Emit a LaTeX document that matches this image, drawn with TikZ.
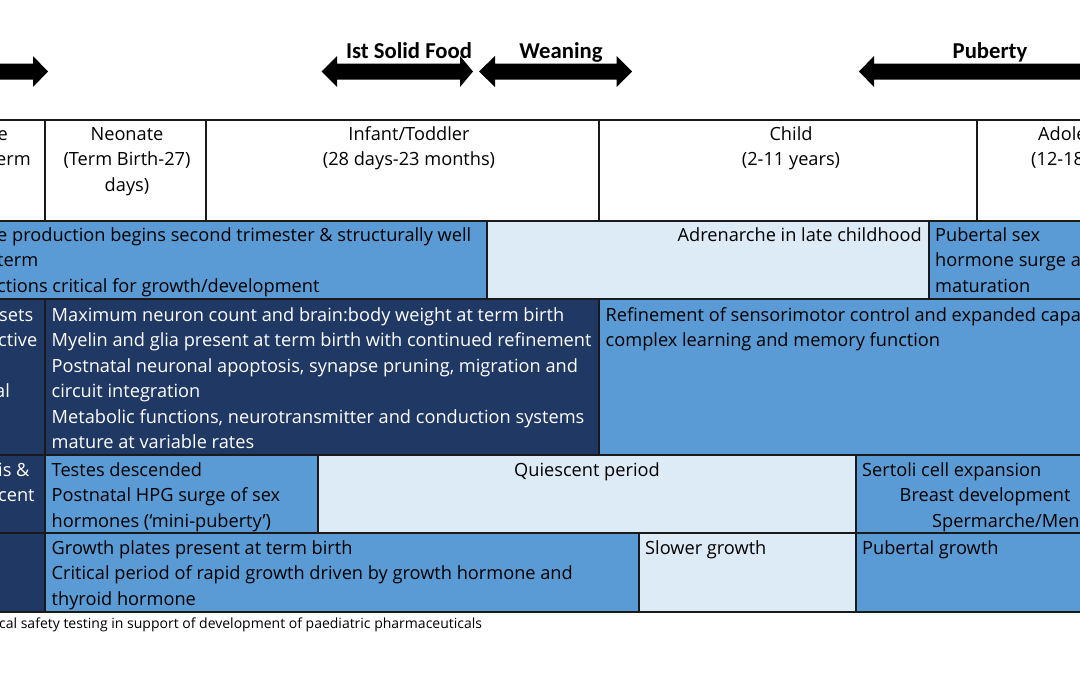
\documentclass[tikz,border=0pt]{standalone}
\usepackage{fontspec}
\setmainfont{Open Sans}
\newfontfamily\calib{Carlito}
\definecolor{midblue}{HTML}{5B9BD5}
\definecolor{navy}{HTML}{203864}
\definecolor{lightb}{HTML}{DDEBF7}
\definecolor{bordc}{HTML}{1A1A1A}
\newcommand\fl{\rule{0pt}{14pt}}
\tikzset{
  cell/.style={draw=bordc, line width=1.3pt},
  body/.style={font=\fontsize{18.2}{25.5}\selectfont, inner sep=0pt, align=left, text=black},
  tl/.style={body, anchor=north west},
  bl/.style={body, anchor=base west},
  br/.style={body, anchor=base east},
  hd/.style={body, anchor=north, align=center},
  wt/.style={text=white},
  lab/.style={font=\calib\bfseries\fontsize{22.7}{26}\selectfont, inner sep=0pt, anchor=base},
  arr/.style={fill=black, draw=none},
  captxt/.style={font=\fontsize{14}{16}\selectfont, inner sep=0pt, anchor=base west}
}
\begin{document}
\begin{tikzpicture}[x=1pt,y=-1pt]
\useasboundingbox (0,0) rectangle (1080,675);
\clip (0,0) rectangle (1080,675);
\fill[white] (0,0) rectangle (1080,675);

% arrows
\fill[arr] (-40,63.5) -- (33,63.5) -- (33,56) -- (48,71.5) -- (33,87) -- (33,79.5) -- (-40,79.5) -- cycle;
\fill[arr] (321.5,71.5) -- (337,56) -- (337,63.5) -- (460,63.5) -- (460,56) -- (473,71.5) -- (460,87) -- (460,79.5) -- (337,79.5) -- (337,87) -- cycle;
\fill[arr] (479,71.5) -- (495,56) -- (495,63.5) -- (616.5,63.5) -- (616.5,56) -- (632,71.5) -- (616.5,87) -- (616.5,79.5) -- (495,79.5) -- (495,87) -- cycle;
\fill[arr] (859,71.5) -- (874,56) -- (874,63.5) -- (1120,63.5) -- (1120,79.5) -- (874,79.5) -- (874,87) -- cycle;

\node[lab] (lsolid) at (409,58.5) {Ist Solid Food};
\node[lab] (lwean) at (561,58.5) {Weaning};
\node[lab] (lpub) at (990,58.5) {Puberty};

% header row
\path[cell, fill=white] (-20,120) rectangle (45,221);
\path[cell, fill=white] (45,120) rectangle (206,221);
\path[cell, fill=white] (206,120) rectangle (599,221);
\path[cell, fill=white] (599,120) rectangle (977,221);
\path[cell, fill=white] (977,120) rectangle (1100,221);

% row 2
\path[cell, fill=midblue] (-20,221) rectangle (487,299);
\path[cell, fill=lightb] (487,221) rectangle (929,299);
\path[cell, fill=midblue] (929,221) rectangle (1100,299);

% row 3
\path[cell, fill=navy] (-20,299) rectangle (45,455);
\path[cell, fill=navy] (45,299) rectangle (599,455);
\path[cell, fill=midblue] (599,299) rectangle (1100,455);

% row 4
\path[cell, fill=navy] (-20,455) rectangle (45,533);
\path[cell, fill=midblue] (45,455) rectangle (318,533);
\path[cell, fill=lightb] (318,455) rectangle (856,533);
\path[cell, fill=midblue] (856,455) rectangle (1100,533);

% row 5
\path[cell, fill=navy] (-20,533) rectangle (45,612);
\path[cell, fill=midblue] (45,533) rectangle (639,612);
\path[cell, fill=lightb] (639,533) rectangle (856,612);
\path[cell, fill=midblue] (856,533) rectangle (1100,612);

% header texts
\node[br] (h0a) at (8,140) {e};
\node[br] (h0b) at (31,165.5) {erm};
\node[hd] (h1) at (127,126) {\fl Neonate\\(Term Birth-27)\\days)};
\node[hd] (h2) at (409,126) {\fl Infant/Toddler\\(28 days-23 months)};
\node[hd] (h3) at (791,126) {\fl Child\\(2-11 years)};
\node[bl] (h4a) at (1038,140) {Adole};
\node[bl] (h4b) at (1031,165.5) {(12-18};

% row 2 texts
\node[tl] (r2a) at (-3,227) {\fl e production begins second trimester \& structurally well\\term\\ctions critical for growth/development};
\node[br] (r2b) at (922,241) {Adrenarche in late childhood};
\node[tl] (r2c) at (935,227) {\fl Pubertal sex\\hormone surge a\\maturation};

% row 3 texts
\node[bl, wt] (r3a1) at (-1,321) {sets};
\node[bl, wt] (r3a2) at (-2,346.5) {ctive};
\node[bl, wt] (r3a3) at (-5,397.5) {al};
\node[tl, wt] (r3b) at (51.5,307) {\fl Maximum neuron count and brain:body weight at term birth\\Myelin and glia present at term birth with continued refinement\\Postnatal neuronal apoptosis, synapse pruning, migration and\\circuit integration\\Metabolic functions, neurotransmitter and conduction systems\\mature at variable rates};
\node[tl] (r3c) at (605.5,307) {\fl Refinement of sensorimotor control and expanded capa\\complex learning and memory function};

% row 4 texts
\node[bl, wt] (r4a1) at (-2,476) {is \&};
\node[bl, wt] (r4a2) at (-2,501.5) {cent};
\node[tl] (r4b) at (51.5,462) {\fl Testes descended\\Postnatal HPG surge of sex\\hormones (‘mini-puberty’)};
\node[body, anchor=base] (r4c) at (587,476) {Quiescent period};
\node[bl] (r4d1) at (862,476) {Sertoli cell expansion};
\node[bl] (r4d2) at (899.5,501.5) {Breast development};
\node[bl] (r4d3) at (932,527) {Spermarche/Mena};

% row 5 texts
\node[tl] (r5a) at (51.5,540) {\fl Growth plates present at term birth\\Critical period of rapid growth driven by growth hormone and\\thyroid hormone};
\node[bl] (r5b) at (645,554) {Slower growth};
\node[bl] (r5c) at (862,554) {Pubertal growth};

% caption
\node[captxt] (capt) at (-1,628) {cal safety testing in support of development of paediatric pharmaceuticals};
\end{tikzpicture}
\end{document}
